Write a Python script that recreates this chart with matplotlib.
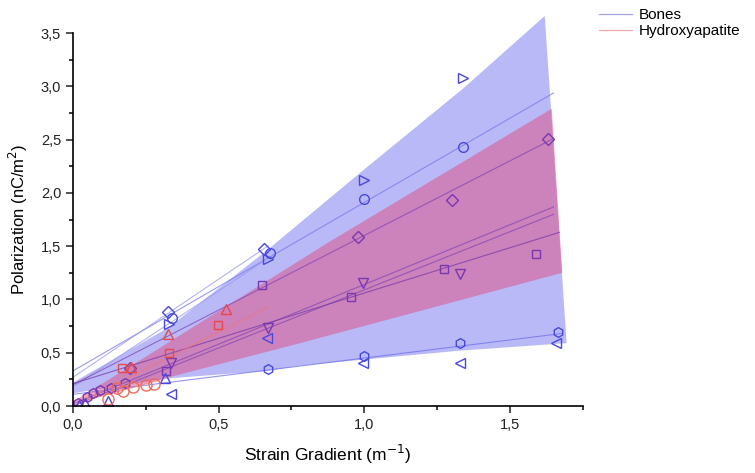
import numpy as np
import matplotlib.pyplot as plt
from matplotlib.ticker import FuncFormatter, MultipleLocator

plt.rcParams['font.family'] = ['Liberation Sans', 'DejaVu Sans']

# confidence bands
bone_up_x = [0, 0.33, 0.67, 1.0, 1.34, 1.62]
bone_up_y = [0.22, 0.74, 1.47, 2.22, 2.98, 3.66]
bone_lo_x = [0, 0.33, 0.67, 0.78, 1.33, 1.695]
bone_lo_y = [0.12, 0.26, 0.33, 0.38, 0.52, 0.59]
hap_up_x = [0, 0.26, 0.5, 0.88, 1.644]
hap_up_y = [0.04, 0.48, 0.89, 1.54, 2.79]
hap_lo_x = [0, 0.33, 0.78, 1.68]
hap_lo_y = [0.02, 0.27, 0.59, 1.25]

# fitted lines: intercept, slope, x end
bone_int = [0.33, 0.27, 0.18, 0.20, 0.02, 0.00, 0.21, 0.11]
bone_slope = [1.58, 1.84, 1.80, 1.40, 1.12, 1.09, 0.85, 0.34]
bone_xend = [1.65, 0.67, 0.67, 1.65, 1.65, 1.65, 1.67, 1.68]
bone_lcol = ['#7878ee', '#9a9af2', '#9a9af2', '#8448b4', '#8448b4', '#8448b4', '#7a3aaa', '#7070e8']
hap_int = [0.00, 0.02]
hap_slope = [1.39, 0.75]
hap_xend = [0.67, 0.30]

# bones data
b_tri_r_x = [0.33, 0.67, 1.0, 1.34]
b_tri_r_y = [0.77, 1.38, 2.12, 3.08]
b_circ_x = [0.34, 0.675, 1.0, 1.34]
b_circ_y = [0.83, 1.44, 1.94, 2.43]
b_diam_x = [0.325, 0.657]
b_diam_y = [0.88, 1.47]
b_diam2_x = [0.195, 0.98, 1.30, 1.63]
b_diam2_y = [0.36, 1.59, 1.93, 2.51]
b_sq_x = [0.32, 0.65, 0.956, 1.274, 1.59]
b_sq_y = [0.33, 1.14, 1.02, 1.29, 1.43]
b_tri_d_x = [0.335, 0.668, 0.997, 1.33]
b_tri_d_y = [0.40, 0.73, 1.15, 1.24]
b_tri_l_x = [0.335, 0.665, 0.997, 1.33, 1.66]
b_tri_l_y = [0.11, 0.64, 0.40, 0.40, 0.59]
b_hex_x = [0.668, 1.0, 1.33, 1.665]
b_hex_y = [0.35, 0.47, 0.59, 0.69]
b_tri_u_x = [0.02, 0.04, 0.12, 0.315]
b_tri_u_y = [0.01, 0.03, 0.05, 0.26]
b_small_x = [0.016, 0.047, 0.07, 0.092, 0.13, 0.18]
b_small_y = [0.03, 0.08, 0.12, 0.15, 0.17, 0.22]

# hydroxyapatite data
h_sq_x = [0.167, 0.33, 0.497]
h_sq_y = [0.36, 0.50, 0.76]
h_tri_x = [0.198, 0.325, 0.526]
h_tri_y = [0.37, 0.675, 0.915]
h_circ_x = [0.12, 0.15, 0.17, 0.206, 0.25, 0.277]
h_circ_y = [0.065, 0.17, 0.14, 0.18, 0.20, 0.21]

blue = '#4848e0'
purple = '#7a38b0'
red = '#e84848'

fig = plt.figure(figsize=(7.55, 4.73), dpi=100)
ax = fig.add_axes([0.0967, 0.1416, 0.675, 0.7886])

ax.fill(np.r_[bone_up_x, bone_lo_x[::-1]], np.r_[bone_up_y, bone_lo_y[::-1]],
        color='#3434e8', alpha=0.34, lw=0, zorder=1, clip_on=False)
ax.fill(np.r_[hap_up_x, hap_lo_x[::-1]], np.r_[hap_up_y, hap_lo_y[::-1]],
        color='#e04c80', alpha=0.5, lw=0, zorder=2)

for b, m, xe, c in zip(bone_int, bone_slope, bone_xend, bone_lcol):
    xx = np.array([0, xe])
    ax.plot(xx, b + m * xx, color=c, lw=0.8, alpha=0.75, zorder=3)
for b, m, xe in zip(hap_int, hap_slope, hap_xend):
    xx = np.array([0, xe])
    ax.plot(xx, b + m * xx, color='#ec7878', lw=0.8, alpha=0.75, zorder=3)

mk = dict(ls='none', mfc='none', ms=7, mew=1, zorder=4)
ax.plot(b_tri_r_x, b_tri_r_y, marker='>', mec=blue, **mk)
ax.plot(b_circ_x, b_circ_y, marker='o', mec=blue, **mk)
ax.plot(b_diam_x, b_diam_y, marker='D', mec=blue, **dict(mk, ms=6))
ax.plot(b_diam2_x, b_diam2_y, marker='D', mec=purple, **dict(mk, ms=6))
ax.plot(b_sq_x, b_sq_y, marker='s', mec=purple, **dict(mk, ms=6))
ax.plot(b_tri_d_x, b_tri_d_y, marker='v', mec=purple, **mk)
ax.plot(b_tri_l_x, b_tri_l_y, marker='<', mec=blue, **mk)
ax.plot(b_hex_x, b_hex_y, marker='h', mec=blue, **mk)
ax.plot(b_tri_u_x, b_tri_u_y, marker='^', mec=blue, **mk)
ax.plot(b_small_x, b_small_y, marker='h', mec=purple, **mk)

ax.plot(h_sq_x, h_sq_y, marker='s', mec=red, **dict(mk, ms=6))
ax.plot(h_tri_x, h_tri_y, marker='^', mec=red, **mk)
ax.plot(h_circ_x, h_circ_y, marker='o', mec='#f06a5a', **dict(mk, ms=8))

ax.set_xlim(0, 1.75)
ax.set_ylim(0, 3.5)
for s in ['top', 'right']:
    ax.spines[s].set_visible(False)
for s in ['left', 'bottom']:
    ax.spines[s].set_linewidth(1.2)
    ax.spines[s].set_zorder(5)
ax.xaxis.set_major_locator(MultipleLocator(0.5))
ax.xaxis.set_minor_locator(MultipleLocator(0.25))
ax.yaxis.set_major_locator(MultipleLocator(0.5))
ax.yaxis.set_minor_locator(MultipleLocator(0.25))
fmt = FuncFormatter(lambda v, p: f'{v:.1f}'.replace('.', ','))
ax.xaxis.set_major_formatter(fmt)
ax.yaxis.set_major_formatter(fmt)
ax.tick_params(which='major', direction='out', length=5, width=1.1, labelsize=10.5, colors='#222222')
ax.tick_params(which='minor', direction='out', length=3, width=1.1)

ax.set_xlabel('Strain Gradient (m$^{-1}$)', fontsize=12.5, labelpad=8)
ax.set_ylabel('Polarization (nC/m$^2$)', fontsize=12, labelpad=8)

h1, = ax.plot([], [], color='#a4a4e6', lw=0.9)
h2, = ax.plot([], [], color='#f2a8a8', lw=0.9)
fig.legend([h1, h2], ['Bones', 'Hydroxyapatite'], loc='upper left',
           bbox_to_anchor=(0.775, 1.012), frameon=False, fontsize=11,
           handlelength=2.2, handletextpad=0.4, labelspacing=0.15)

fig.savefig('out.png', dpi=100)
